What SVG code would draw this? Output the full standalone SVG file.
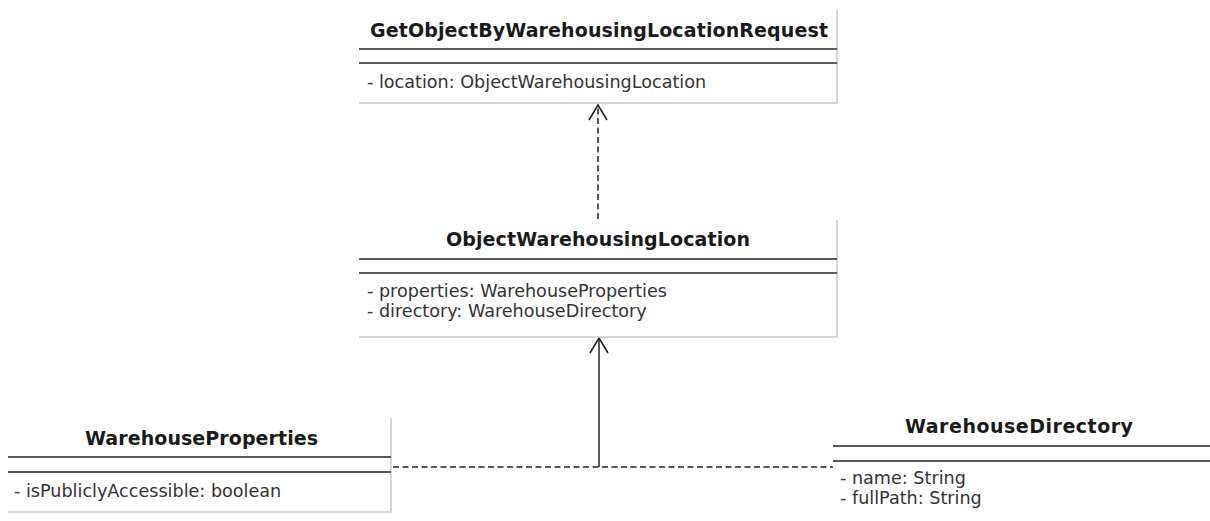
<svg xmlns="http://www.w3.org/2000/svg" width="1210" height="521" viewBox="0 0 1210 521">
<defs>
<style>
.title{font-family:"DejaVu Sans",sans-serif;font-weight:bold;font-size:19px;fill:#1a1a1a;text-anchor:middle}
.attr{font-family:"DejaVu Sans",sans-serif;font-size:17.6px;fill:#333}
.sep{stroke:#222;stroke-width:1.5;fill:none}
.edge{stroke:#c8c8c8;stroke-width:1.5;fill:none}
.conn{stroke:#222;stroke-width:1.5;fill:none}
.dash{stroke-dasharray:6,3.5}
</style>
<marker id="open" viewBox="0 0 20 20" refX="17" refY="10" markerWidth="20" markerHeight="20" markerUnits="userSpaceOnUse" orient="auto">
<path d="M2,1 L17,10 L2,19" fill="none" stroke="#222" stroke-width="1.6"/>
</marker>
</defs>
<rect width="1210" height="521" fill="#fff"/>
<g id="connectors">
<line class="conn dash" x1="598" y1="219" x2="598" y2="105" marker-end="url(#open)"/>
<line class="conn" x1="599" y1="467" x2="599" y2="338" marker-end="url(#open)"/>
<line class="conn dash" x1="393" y1="467" x2="833" y2="467"/>
</g>
<g id="GetObjectByWarehousingLocationRequest">
<path class="edge" d="M837,10 V103 H359"/>
<line class="sep" x1="359" y1="49" x2="837" y2="49"/>
<line class="sep" x1="359" y1="63" x2="837" y2="63"/>
<text class="title" x="599" y="37" textLength="458" lengthAdjust="spacing">GetObjectByWarehousingLocationRequest</text>
<text class="attr" x="367" y="88">- location: ObjectWarehousingLocation</text>
</g>
<g id="ObjectWarehousingLocation">
<path class="edge" d="M837,220 V337 H359"/>
<line class="sep" x1="359" y1="259" x2="837" y2="259"/>
<line class="sep" x1="359" y1="273" x2="837" y2="273"/>
<text class="title" x="598" y="246" textLength="304" lengthAdjust="spacing">ObjectWarehousingLocation</text>
<text class="attr" x="367" y="297">- properties: WarehouseProperties</text>
<text class="attr" x="367" y="317">- directory: WarehouseDirectory</text>
</g>
<g id="WarehouseProperties">
<path class="edge" d="M391,418 V512 H8"/>
<line class="sep" x1="8" y1="457" x2="391" y2="457"/>
<line class="sep" x1="8" y1="472" x2="391" y2="472"/>
<text class="title" x="201.5" y="445" textLength="233" lengthAdjust="spacing">WarehouseProperties</text>
<text class="attr" x="14" y="497">- isPubliclyAccessible: boolean</text>
</g>
<g id="WarehouseDirectory">
<line class="sep" x1="833" y1="446" x2="1210" y2="446"/>
<line class="sep" x1="833" y1="461" x2="1210" y2="461"/>
<text class="title" x="1019" y="433" textLength="228" lengthAdjust="spacing">WarehouseDirectory</text>
<text class="attr" x="840" y="484">- name: String</text>
<text class="attr" x="840" y="504">- fullPath: String</text>
</g>
</svg>
